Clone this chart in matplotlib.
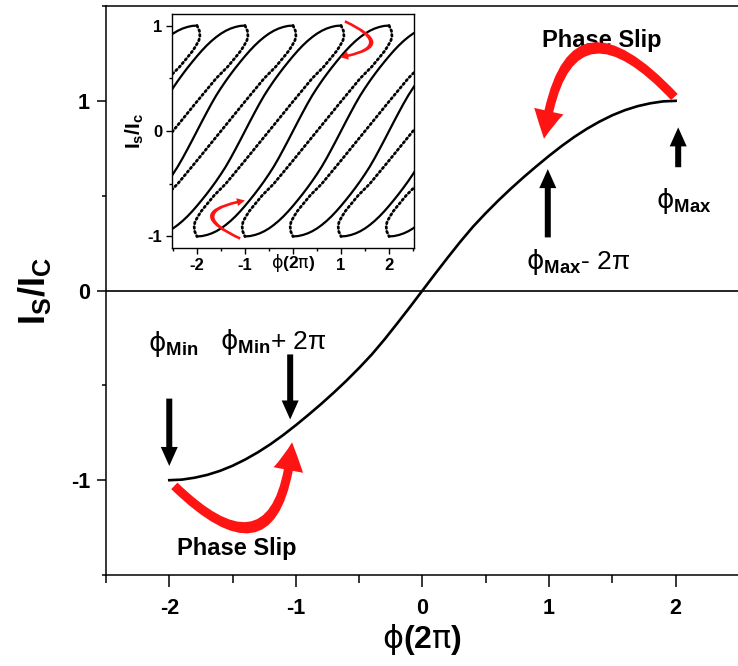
import matplotlib
matplotlib.use("Agg")
import matplotlib.pyplot as plt
from matplotlib.patches import FancyArrowPatch
from matplotlib.ticker import MultipleLocator

plt.rcParams['font.family'] = ['Liberation Sans', 'DejaVu Sans']
plt.rcParams['mathtext.fontset'] = 'custom'
plt.rcParams['mathtext.rm'] = 'DejaVu Sans'
plt.rcParams['mathtext.bf'] = 'Liberation Sans:bold'
plt.rcParams['mathtext.it'] = 'Liberation Sans:italic'

# main branch: I_s/I_c against phase (units of 2 pi)
phase = [-2.0, -1.9, -1.8, -1.7, -1.6, -1.5, -1.4, -1.3, -1.2, -1.1, -1.0,
         -0.9, -0.8, -0.7, -0.6, -0.5, -0.4, -0.3, -0.2, -0.1, 0.0,
         0.1, 0.2, 0.3, 0.4, 0.5, 0.6, 0.7, 0.8, 0.9, 1.0,
         1.1, 1.2, 1.3, 1.4, 1.5, 1.6, 1.7, 1.8, 1.9, 2.0]
current = [-1.0, -0.997, -0.987, -0.972, -0.951, -0.924, -0.891, -0.853, -0.81, -0.762, -0.71,
           -0.655, -0.598, -0.538, -0.475, -0.408, -0.337, -0.258, -0.174, -0.088, 0.0,
           0.088, 0.174, 0.258, 0.337, 0.408, 0.475, 0.538, 0.598, 0.655, 0.71,
           0.762, 0.81, 0.853, 0.891, 0.924, 0.951, 0.972, 0.987, 0.997, 1.0]

# inset: unstable (dotted) part of one loop, from the top of the solid branch
# back down to the bottom of the next one
unstable_phase = [2.0, 2.05, 2.06, 2.04, 1.98, 1.91, 1.84, 1.74, 1.64, 1.52, 1.40, 1.2, 1.0,
                  0.75, 0.5, 0.25, 0.0, -0.2, -0.40, -0.52, -0.64, -0.74, -0.84, -0.91,
                  -0.98, -1.04, -1.06, -1.05, -1.0]
unstable_current = [1.0, 0.95, 0.90, 0.86, 0.81, 0.76, 0.72, 0.665, 0.61, 0.555, 0.50, 0.39, 0.28,
                    0.14, 0.0, -0.14, -0.28, -0.39, -0.50, -0.555, -0.61, -0.665, -0.72, -0.76,
                    -0.81, -0.86, -0.90, -0.95, -1.0]
# the loops repeat every 2 pi
solid_shifts = [-4, -3, -2, -1, 0, 1, 2, 3, 4]
dotted_shifts = [-4, -3, -2, -1, 0, 1, 2, 3]

main_ticks = [-2, -1, 0, 1, 2]
main_ticklabels = ['-2', '-1', '0', '1', '2']
inset_xticklabels = ['-2', '-1', '', '1', '2']

RED = '#ff1414'
PHI_LABEL = r'$\mathrm{ϕ}\mathbf{(2}\mathrm{π}\mathbf{)}$'

fig = plt.figure(figsize=(7.38, 6.66), dpi=100)
px = 72.0 / fig.dpi  # arrow sizes below are given in pixels


def arrow(ax, tail, tip, color, head_len, head_w, tail_w, rad=0.0, z=5):
    style = f"simple,head_length={head_len},head_width={head_w},tail_width={tail_w}"
    a = FancyArrowPatch(tail, tip, arrowstyle=style, mutation_scale=px,
                        connectionstyle=f"arc3,rad={rad}", color=color,
                        shrinkA=0, shrinkB=0, lw=0, zorder=z)
    ax.add_patch(a)


# ---- main axes
ax = fig.add_axes([0.1436, 0.1366, 0.8577, 0.8544])
ax.set_xlim(-2.5, 2.5)
ax.set_ylim(-1.5, 1.5)
ax.plot(phase, current, color='black', lw=1.9, zorder=3, solid_joinstyle='round')
ax.axhline(0, color='black', lw=1.2, zorder=2)

ax.spines['right'].set_visible(False)
for s in ['left', 'bottom', 'top']:
    ax.spines[s].set_linewidth(1.1)
ax.set_xticks(main_ticks)
ax.set_xticklabels(main_ticklabels)
ax.set_yticks([-1, 0, 1])
ax.set_yticklabels(['-1', '0', '1'])
ax.xaxis.set_minor_locator(MultipleLocator(0.5))
ax.yaxis.set_minor_locator(MultipleLocator(0.5))
ax.tick_params(axis='x', which='major', direction='out', length=8.5, width=1.1, pad=8, labelsize=15.5)
ax.tick_params(axis='x', which='minor', direction='out', length=5.5, width=1.1)
ax.tick_params(axis='y', which='major', direction='out', length=6.5, width=1.1, pad=5, labelsize=15.5)
ax.tick_params(axis='y', which='minor', direction='out', length=3, width=1.1)
ax.tick_params(top=False, right=False, which='both')
for lab in ax.get_xticklabels() + ax.get_yticklabels():
    lab.set_fontweight('bold')

ax.set_xlabel(PHI_LABEL, fontsize=23, labelpad=2)
ax.set_ylabel(r'$\mathbf{I_S/I_C}$', fontsize=26, labelpad=13)

# arrows marking phi_min / phi_max
arrow(ax, (2.02, 0.65), (2.02, 0.86), 'black', 19, 17, 6)
arrow(ax, (0.99, 0.28), (0.99, 0.64), 'black', 19, 17, 6)
arrow(ax, (-2.0, -0.57), (-2.0, -0.925), 'black', 19, 17, 6)
arrow(ax, (-1.045, -0.337), (-1.045, -0.68), 'black', 19, 17, 6)

# phase slip arcs
arrow(ax, (1.99, 1.02), (0.96, 0.80), RED, 28, 30, 9, rad=1.05)
arrow(ax, (-1.96, -1.03), (-1.03, -0.80), RED, 28, 30, 9, rad=1.05)

ax.text(1.42, 1.32, 'Phase Slip', fontsize=17, fontweight='bold', ha='center', va='center')
ax.text(-1.47, -1.36, 'Phase Slip', fontsize=17, fontweight='bold', ha='center', va='center')
ax.text(2.06, 0.47, r'$\mathrm{ϕ}_{\mathbf{Max}}$', fontsize=19, ha='center', va='center')
ax.text(1.23, 0.15, r'$\mathrm{ϕ}_{\mathbf{Max}}$- 2π', fontsize=19, ha='center', va='center')
ax.text(-1.967, -0.284, r'$\mathrm{ϕ}_{\mathbf{Min}}$', fontsize=19, ha='center', va='center')
ax.text(-1.18, -0.27, r'$\mathrm{ϕ}_{\mathbf{Min}}$+ 2π', fontsize=19, ha='center', va='center')

# ---- inset
ins = fig.add_axes([0.2331, 0.6276, 0.3279, 0.3514])
ins.set_facecolor('white')
ins.set_xlim(-2.52, 2.52)
ins.set_ylim(-1.11, 1.11)
for n in solid_shifts:
    ins.plot([p + n for p in phase], current, color='black', lw=1.6)
for n in dotted_shifts:
    ins.plot([p + n for p in unstable_phase], unstable_current, color='black',
             lw=2.0, linestyle=(0, (0.6, 1.1)), dash_capstyle='round')

arrow(ins, (1.08, 1.04), (0.98, 0.70), RED, 8, 8, 2.6, rad=-1.6)
arrow(ins, (-1.1, -1.02), (-1.0, -0.66), RED, 8, 8, 2.6, rad=-1.6)

ins.set_xticks(main_ticks)
ins.set_xticklabels(inset_xticklabels)
ins.set_yticks([-1, 0, 1])
ins.set_yticklabels(['-1', '0', '1'])
ins.xaxis.set_minor_locator(MultipleLocator(0.5))
ins.yaxis.set_minor_locator(MultipleLocator(0.5))
ins.tick_params(which='major', direction='out', length=4, width=1, labelsize=12, pad=3)
ins.tick_params(which='minor', direction='out', length=2.5, width=1)
for lab in ins.get_xticklabels() + ins.get_yticklabels():
    lab.set_fontweight('bold')
for s in ins.spines.values():
    s.set_linewidth(1.0)
ins.set_xlabel(PHI_LABEL, fontsize=12.5, labelpad=-15)
ins.set_ylabel(r'$\mathbf{I_s/I_c}$', fontsize=15, labelpad=1)

fig.savefig('out.png', dpi=100)
